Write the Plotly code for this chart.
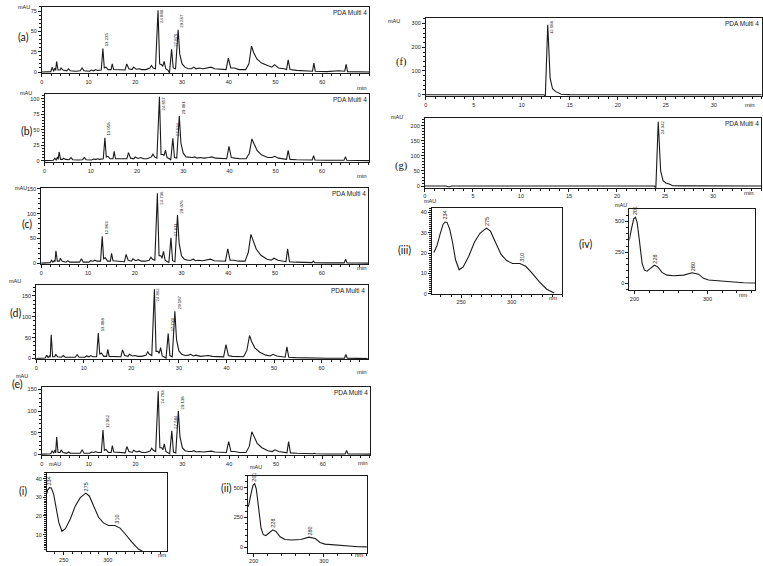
import math
import plotly.graph_objects as go

W, H = 763, 566

# ---------------- data ----------------
chrom_time = [0.0, 1.9, 2.2, 2.5, 2.8, 2.95, 3.15, 3.45, 3.9, 4.1,
              4.5, 5.3, 5.7, 6.1, 7.2, 8.2, 8.6, 9.0, 10.2, 10.6,
              11.1, 11.5, 11.9, 12.7, 13.05, 13.35, 13.7, 14.2, 14.8, 15.05,
              15.35, 16.5, 17.8, 18.15, 18.6, 19.3, 19.6, 20.2, 20.8, 21.4,
              22.2, 23.1, 23.45, 23.8, 24.3, 24.85, 25.2, 25.6, 25.85, 26.15,
              26.5, 27.0, 27.3, 27.75, 28.1, 28.6, 29.15, 29.5, 30.0, 30.6,
              31.3, 32.0, 32.5, 33.0, 33.6, 34.5, 35.5, 36.2, 37.0, 39.4,
              39.9, 40.4, 41.2, 42.2, 43.6, 44.3, 44.85, 45.3, 46.0, 47.0,
              48.3, 49.2, 49.8, 50.6, 51.8, 52.35, 52.7, 53.1, 54.5, 56.5,
              57.9, 58.2, 58.5, 61.0, 63.5, 64.8, 65.1, 65.4, 67.5, 70.2]

a_mau = [0, 0.5, 6, 1, 5, 2, 13, 2.5, 2.5, 5,
         2.5, 1.5, 4, 1.5, 1, 1.5, 5, 1.5, 1, 2.5,
         1.5, 3, 2, 2.5, 29, 5, 6, 3, 3, 10,
         3, 3, 2.5, 10, 4, 3, 6, 3.5, 4, 3,
         3, 5, 8, 5, 4, 76, 10, 9, 7, 13,
         4, 2, -1, 28, 5, 4, 52, 22, 10, 6,
         4, 4, 6, 4, 5, 4, 5, 6, 4, 3,
         17, 5, 5, 3, 3, 10, 32, 24, 16, 11,
         8, 6, 9, 5, 4, 3, 15, 3, 2, 1,
         1, 11, 1, 0.5, 1.5, 1, 9.5, 0.5, 0.3, 0]

b_mau = [0, 0.5, 4, 1, 6, 2, 14, 2, 2, 4,
         2, 1.5, 5, 1.5, 1, 1.5, 5, 1.5, 1, 2.5,
         2, 3, 2, 3, 37, 6, 7, 3, 3, 15,
         3, 3, 3, 13, 4, 3, 6, 3.5, 5, 3,
         3, 6, 10.5, 6, 4, 103, 10, 10, 8, 17,
         5, 3, 1, 36, 5, 4, 72, 28, 12, 6,
         5, 5, 6, 4, 5, 4, 5, 6, 4, 3,
         23, 5, 4, 3, 3, 12, 35, 28, 16, 9,
         5, 5, 7, 4, 3, 2, 16.5, 2, 1.5, 1,
         1, 8, 1, 0.5, 1, 0.5, 6.4, 0.5, 0.3, 0]

c_mau = [0, 1, 6, 2, 5, 3, 25, 4, 4, 10,
         4, 2, 5, 2, 2, 2, 9, 2, 2, 5,
         4, 6, 4, 4, 54, 9, 11, 4, 4, 20,
         5, 4, 3, 17.5, 6, 4, 9, 5, 7, 4,
         4, 6, 12, 8, 6, 141, 15, 15, 10, 24,
         6, 3, 1, 51, 5, 3, 97, 40, 15, 8,
         6, 6, 8, 5, 6, 5, 6, 8, 5, 4,
         29, 6, 6, 4, 4, 22, 58, 45, 28, 16,
         8, 6, 10, 6, 4, 3, 29, 3, 2, 1,
         1, 4, 1, 0.5, 1, 0.5, 8, 0.5, 0.3, 0]

d_mau = [0, 1, 8, 2, 6, 3, 57, 4, 4, 10,
         4, 3, 7, 3, 3, 3, 9, 3, 3, 6,
         4, 7, 4, 4, 61, 10, 13, 5, 5, 22,
         5, 5, 4, 20.5, 7, 5, 10, 6, 7, 5,
         5, 8, 16, 10, 7, 166, 17, 17, 12, 26,
         6, 3, 1, 60, 7, 4, 113, 45, 18, 10,
         7, 8, 10, 6, 8, 5, 6, 7, 5, 4,
         33, 7, 5, 4, 4, 20, 55, 40, 25, 15,
         8, 6, 10, 6, 4, 3, 28, 3, 2, 1,
         0.5, 0.5, 0.5, 0.5, 0.5, 0.5, 9.5, 0.5, 0.3, 0]

e_mau = [0, 1, 8, 2, 10, 3, 40, 4, 4, 10,
         4, 2, 5, 2, 2, 2, 10, 2, 2, 5,
         4, 6, 4, 4, 56, 9, 11, 4, 4, 20,
         5, 4, 3, 17.6, 6, 4, 9, 5, 7, 4,
         4, 7, 14, 9, 6, 146, 15, 15, 10, 24,
         6, 3, 1, 54, 5, 3, 100, 40, 15, 8,
         6, 6, 8, 5, 6, 5, 6, 7, 5, 4,
         29, 6, 6, 4, 4, 18, 52, 40, 25, 15,
         8, 6, 10, 6, 4, 3, 29, 3, 2, 1,
         1, 2, 1, 0.5, 1, 0.5, 8.4, 0.5, 0.3, 0]

labelled_idx = [24, 45, 53, 56]
a_rt = ["13.235", "24.880", "27.876", "29.287"]
b_rt = ["13.058", "24.857", "27.634", "29.081"]
c_rt = ["12.963", "24.736", "27.611", "29.076"]
d_rt = ["13.088", "24.862", "27.739", "29.187"]
e_rt = ["12.962", "24.783", "27.684", "29.138"]

f_time = [0, 2.2, 2.5, 2.8, 12.3, 12.45, 12.7, 12.95, 13.2, 13.5, 13.8, 14.1, 15, 35]
f_mau = [0, 0, -3, 0, 0, -6, 295, 70, 25, 14, 8, 2, 0.5, 0]
f_rt = ["12.686"]
g_time = [0, 2.2, 2.5, 2.8, 23.9, 24.05, 24.3, 24.55, 24.8, 25.1, 25.5, 25.8, 27, 35]
g_mau = [0, 0, -3, 0, 0, -6, 213, 50, 18, 10, 6, 1, 0.5, 0]
g_rt = ["24.342"]

spec1_nm = [223, 226, 229, 232, 234, 236, 238.7, 241.4, 244.4, 248, 252, 257.5, 263.2,
            268.8, 275, 279, 283.8, 289.5, 295, 300.8, 308, 313.9, 319.5, 327, 334.6, 342]
spec1_mau = [20.3, 23.5, 29, 34, 35.2, 35, 31.6, 25.4, 16.7, 11.8, 13.2, 18.4, 25.4,
             29.8, 32.2, 30.7, 25.4, 19.3, 16.3, 14.9, 14.9, 13.5, 10.5, 6.1, 2.3, 0.4]
spec1_peaks = [234, 275, 310]

spec2_nm = [192, 193.2, 195.9, 199, 201.4, 203.6, 205.9, 208.2, 210.5, 213.6, 217.3, 221.8, 227.3,
            231.8, 237.7, 244.5, 253.6, 267.3, 278.6, 287.7, 294.5, 301.4, 312.7, 330.9, 349, 365]
spec2_mau = [340, 359, 439, 519, 532, 492, 386, 253, 160, 106, 98, 120, 146,
             133, 88, 66, 61, 66, 85, 74, 40, 27, 21, 11, 5, 3]
spec2_peaks = [201, 228, 280]

# ---------------- layout helpers ----------------
LINE = "#1a1a1a"
TXT = "#222222"
SANS = "Liberation Sans"


def xdom(p0, p1):
    return [p0 / W, p1 / W]


def ydom(top, bot):
    return [1 - bot / H, 1 - top / H]


panels = [
    # name, x, y, box(x0,x1,top,bottom), xrange, yrange, xdt, xmin, ydt, ymin
    ("a", chrom_time, a_mau, (40, 368, 4, 71), [0, 70], [-1.5, 80], 10, 2, 25, 5),
    ("b", chrom_time, b_mau, (42.7, 368, 92, 160.7), [0, 70.2], [-2.2, 107.5], 10, 2, 25, 5),
    ("c", chrom_time, c_mau, (39.3, 367, 187.3, 263.7), [0, 69.9], [-1.5, 151], 10, 2, 50, 10),
    ("d", chrom_time, d_mau, (34.3, 366.7, 285, 360.3), [0, 69.7], [-2.4, 176], 10, 2, 50, 10),
    ("e", chrom_time, e_mau, (40, 369, 388.3, 457), [0, 70.1], [-2.3, 155.4], 10, 2, 50, 10),
    ("f", f_time, f_mau, (425, 761.7, 15, 94.3), [0, 35], [-6.7, 324], 5, 1, 100, 20),
    ("g", g_time, g_mau, (424, 761, 116.7, 186.7), [0, 35], [-5.5, 224], 5, 1, 50, 10),
    ("i", spec1_nm, spec1_mau, (45, 165, 475, 554), [231, 366.5], [1.2, 43], 50, 10, 10, 1),
    ("ii", spec2_nm, spec2_mau, (246.7, 365.7, 477.7, 555.7), [192, 361], [-46, 600], 100, 20, 250, 50),
    ("iii", spec1_nm, spec1_mau, (431, 561.7, 207.3, 294), [221, 350], [0, 42], 50, 10, 10, 1),
    ("iv", spec2_nm, spec2_mau, (629, 755, 208.3, 290), [193, 365], [-53, 598], 100, 20, 250, 50),
]

mau_pos = {"a": (15, 0.5), "b": (17, 87), "c": (12, 183), "d": (6, 281), "e": (13, 381),
           "f": (393, 14), "g": (396, 111), "i": (46, 470), "ii": (248, 473),
           "iii": (429, 200), "iv": (628, 204)}
unit_pos = {"a": (361, 82), "b": (361, 171), "c": (361, 268), "d": (361, 373), "e": (362, 469),
            "f": (756, 99), "g": (755, 192), "i": (155, 562), "ii": (358, 562),
            "iii": (557, 298), "iv": (748, 295)}
tag_pos = {"a": (15, 27), "b": (18, 122), "c": (19, 223), "d": (7, 313), "e": (9, 392),
           "f": (401, 53), "g": (401, 158), "i": (16, 500), "ii": (219, 497),
           "iii": (404, 250), "iv": (594, 244)}

rt_labels = {"a": a_rt, "b": b_rt, "c": c_rt, "d": d_rt, "e": e_rt}

fig = go.Figure()
layout = {}
annotations = []


def paper(xp, yp):
    return xp / W, 1 - yp / H


def major_vals(rng, step):
    v = math.ceil(rng[0] / step) * step
    out = []
    while v <= rng[1] - 0.4 * step:
        out.append(v)
        v += step
    return out


for k, (name, xs, ys, box, xr, yr, xdt, xmn, ydt, ymn) in enumerate(panels):
    n = "" if k == 0 else str(k + 1)
    xa, ya = "x" + n, "y" + n
    fig.add_trace(go.Scatter(x=xs, y=ys, mode="lines", xaxis=xa, yaxis=ya,
                             line=dict(color=LINE, width=1.1), showlegend=False,
                             hoverinfo="skip"))
    x0, x1, top, bot = box
    common = dict(showline=True, linecolor=LINE, linewidth=1, mirror=True,
                  showgrid=False, zeroline=False, ticks="outside", ticklen=3,
                  tickwidth=1, tickcolor=LINE,
                  tickfont=dict(size=5.5, family=SANS, color=TXT))
    xv = major_vals(xr, xdt)
    layout["xaxis" + n] = dict(domain=xdom(x0, x1), range=xr, anchor=ya,
                               tickmode="array", tickvals=xv, ticktext=[str(v) for v in xv],
                               minor=dict(tickmode="linear", tick0=0, dtick=xmn, ticks="outside",
                                          ticklen=2, tickcolor=LINE, showgrid=False),
                               **common)
    layout["yaxis" + n] = dict(domain=ydom(top, bot), range=yr, anchor=xa, dtick=ydt,
                               tick0=0, minor=dict(dtick=ymn, ticks="outside", ticklen=2,
                                                    tickcolor=LINE, showgrid=False),
                               **common)
    # mAU
    px, py = paper(*mau_pos[name])
    annotations.append(dict(x=px, y=py, xref="paper", yref="paper", text="mAU",
                            showarrow=False, borderpad=0,
                            font=dict(size=5.5, family=SANS, color=TXT)))
    px, py = paper(*unit_pos[name])
    unit = "nm" if name in ("i", "ii", "iii", "iv") else "min"
    annotations.append(dict(x=px, y=py, xref="paper", yref="paper", text=unit,
                            showarrow=False, borderpad=0,
                            font=dict(size=6, family=SANS, color=TXT)))
    px, py = paper(*tag_pos[name])
    annotations.append(dict(x=px, y=py, xref="paper", yref="paper", text="(" + name + ")",
                            showarrow=False, borderpad=0,
                            font=dict(size=10.5, family="Liberation Serif" if name in ("f", "g") else "Lato",
                                      color="#111")))
    if name in ("a", "b", "c", "d", "e", "f", "g"):
        annotations.append(dict(x=x1 / W - 1.5 / W, y=1 - (top + 1) / H, xref="paper",
                                yref="paper", text="PDA Multi 4", showarrow=False,
                                xanchor="right", yanchor="top", borderpad=0,
                                font=dict(size=6.5, family=SANS, color=TXT)))
    # peak labels
    pxu = (bot - top) / (yr[1] - yr[0])
    if name in rt_labels:
        for idx, txt in zip(labelled_idx, rt_labels[name]):
            xv_, yv = xs[idx], ys[idx]
            if (yr[1] - yv) * pxu < 15:
                yy, yanc = yr[1], "top"
            else:
                yy, yanc = yv, "bottom"
            annotations.append(dict(x=xv_, y=yy, xref=xa, yref=ya, text=txt, textangle=-90,
                                    showarrow=False, xanchor="left", yanchor=yanc,
                                    xshift=0.5, yshift=1 if yanc == "bottom" else -1,
                                    borderpad=0,
                                    font=dict(size=4.3, family=SANS, color="#111")))
    if name in ("f", "g"):
        txt = f_rt[0] if name == "f" else g_rt[0]
        j = ys.index(max(ys))
        annotations.append(dict(x=xs[j], y=yr[1], xref=xa, yref=ya, text=txt, textangle=-90,
                                showarrow=False, xanchor="left", yanchor="top", xshift=1,
                                yshift=-1, borderpad=0,
                                font=dict(size=4.3, family=SANS, color="#111")))
    if name in ("i", "iii", "ii", "iv"):
        pk = spec1_peaks if name in ("i", "iii") else spec2_peaks
        for wl in pk:
            j = min(range(len(xs)), key=lambda q: abs(xs[q] - wl))
            annotations.append(dict(x=wl, y=ys[j], xref=xa, yref=ya, text=str(wl),
                                    textangle=-90, showarrow=False, xanchor="center",
                                    yanchor="bottom", yshift=1, borderpad=0,
                                    font=dict(size=5.5, family=SANS, color=TXT)))

fig.update_layout(**layout)
fig.update_layout(width=W, height=H, margin=dict(l=0, r=0, t=0, b=0),
                  paper_bgcolor="white", plot_bgcolor="white",
                  annotations=annotations, showlegend=False)

fig.write_html("out.html")
